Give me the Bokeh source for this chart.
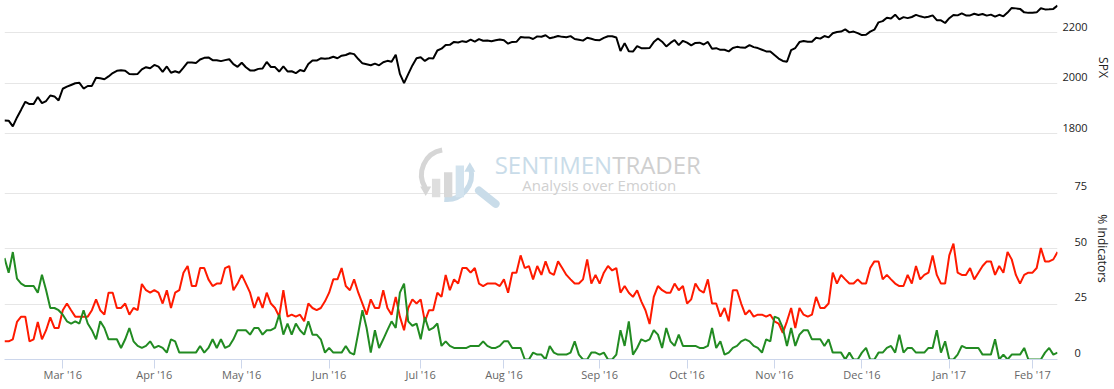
import numpy as np
import pandas as pd
from bokeh.plotting import figure
from bokeh.models import Range1d, LinearAxis, FixedTicker, Grid
from bokeh.layouts import column
from bokeh.embed import file_html
from bokeh.resources import INLINE
from bokeh.core.properties import value

# ---------------- data ----------------
start_date = "2016-02-09"
end_date = "2017-02-09"
market_holidays = ["2016-02-15", "2016-03-25", "2016-05-30", "2016-07-04", "2016-09-05",
                   "2016-11-24", "2016-12-26", "2017-01-02", "2017-01-16"]

spx = [
    1852.2, 1851.9, 1829.1, 1864.8, 1895.6, 1926.8, 1917.8, 1917.8, 1945.5, 1921.3,
    1929.8, 1951.7, 1948.1, 1932.2,
    1978.4, 1986.5, 1993.4, 2000.0, 2001.8, 1979.3, 1989.3, 1989.6, 2022.2, 2019.6,
    2015.9, 2027.2, 2040.6, 2049.6, 2051.6, 2049.8, 2036.7, 2035.9, 2037.1, 2055.0,
    2063.9, 2059.7,
    2072.8, 2066.1, 2045.2, 2066.7, 2041.9, 2047.6, 2042.0, 2061.7, 2082.4, 2082.8,
    2080.7, 2094.3, 2100.8, 2102.4, 2091.5, 2091.6, 2087.8, 2091.7, 2095.2, 2075.8,
    2065.3,
    2081.4, 2063.4, 2051.1, 2050.6, 2057.1, 2058.7, 2084.4, 2064.5, 2064.1, 2046.6,
    2066.7, 2047.2, 2047.6, 2040.0, 2052.3, 2048.0, 2076.1, 2090.5, 2090.1, 2099.1,
    2096.9,
    2099.3, 2105.3, 2099.1, 2109.4, 2112.1, 2119.1, 2115.5, 2096.1, 2079.1, 2075.3,
    2071.5, 2078.0, 2071.2, 2083.3, 2088.9, 2085.5, 2113.3, 2037.4, 2000.5, 2036.1,
    2070.8, 2098.9,
    2103.0, 2088.6, 2099.7, 2097.9, 2129.9, 2137.2, 2152.1, 2152.4, 2163.8, 2161.7,
    2166.9, 2163.8, 2173.0, 2165.2, 2175.0, 2168.5, 2169.2, 2166.6, 2170.1, 2173.6,
    2170.8, 2157.0, 2163.8, 2164.3, 2182.9, 2180.9, 2181.7, 2175.5, 2185.8, 2184.1,
    2190.2, 2178.2, 2182.2, 2187.0, 2183.9, 2182.6, 2186.9, 2175.4, 2172.5, 2169.0,
    2180.4, 2176.1, 2171.0,
    2170.9, 2180.0, 2186.5, 2186.2, 2181.3, 2127.8, 2159.0, 2127.0, 2125.8, 2147.3,
    2139.2, 2139.1, 2139.8, 2163.1, 2177.2, 2164.7, 2146.1, 2159.9, 2171.4, 2151.1,
    2168.3,
    2161.2, 2150.5, 2159.7, 2160.8, 2153.7, 2163.7, 2136.7, 2139.2, 2132.6, 2133.0,
    2126.5, 2139.6, 2144.3, 2141.3, 2141.2, 2151.3, 2143.2, 2139.4, 2133.0, 2126.4,
    2126.2,
    2111.7, 2097.9, 2088.7, 2085.2, 2131.5, 2139.6, 2163.3, 2167.5, 2164.4, 2164.2,
    2180.4, 2176.9, 2187.1, 2181.9, 2198.2, 2202.9, 2204.7, 2213.4, 2201.7, 2204.7,
    2198.8,
    2191.1, 2192.0, 2204.7, 2212.2, 2241.4, 2246.2, 2259.5, 2257.0, 2271.7, 2253.3,
    2262.0, 2258.1, 2262.5, 2270.8, 2265.2, 2261.0, 2263.8, 2268.9, 2249.9, 2249.3,
    2238.8,
    2257.8, 2270.8, 2269.0, 2277.0, 2268.9, 2268.9, 2275.3, 2270.4, 2274.6, 2267.9,
    2271.9, 2263.7, 2271.3, 2265.2, 2280.1, 2298.4, 2296.7, 2294.7, 2280.9, 2278.9,
    2279.6, 2280.9, 2297.4, 2292.6, 2293.1, 2294.7, 2307.9,
]

pct_red = [
    8.2, 8.2, 9.1, 16.9, 19.3, 19.3, 8.2, 9.1, 16.9, 9.1,
    13.2, 19.0, 14.2, 14.2, 22.2, 25.2, 22.2, 19.3, 19.3, 19.3,
    19.3, 22.2, 27.1, 22.2, 20.2, 30.1, 30.1, 23.2, 23.2, 25.2,
    20.2, 23.2, 22.2, 34.0, 31.2, 30.1, 31.2, 30.1, 25.2, 31.2,
    23.2, 30.1, 31.2, 39.1, 42.1, 33.1, 33.1, 41.2, 41.2, 36.1,
    33.1, 34.2, 34.2, 41.2, 42.1, 31.2, 34.2, 38.1, 34.2, 30.1,
    23.2, 28.2, 23.2, 30.1, 25.2, 23.2, 19.3, 31.2, 19.3, 20.2,
    19.3, 20.2, 17.2, 25.2, 23.2, 22.2, 23.2, 26.2, 30.1, 36.1,
    36.1, 41.2, 33.1, 31.2, 36.1, 30.1, 25.2, 20.2, 27.1, 23.2,
    23.2, 31.2, 23.2, 20.2, 28.2, 19.3, 13.2, 23.2, 27.1, 25.2,
    27.1, 17.2, 22.2, 22.2, 30.1, 28.2, 38.1, 31.2, 36.1, 34.2,
    41.2, 41.2, 39.1, 41.2, 34.2, 33.1, 34.2, 34.2, 34.2, 33.1,
    36.1, 30.1, 39.1, 39.1, 46.9, 41.2, 42.1, 36.1, 42.1, 38.1,
    44.2, 39.1, 38.1, 44.2, 41.2, 38.1, 36.1, 34.2, 34.2, 36.1,
    45.1, 34.2, 38.1, 34.2, 39.1, 42.1, 40.1, 41.2, 30.1, 33.1,
    30.1, 28.2, 31.2, 26.2, 22.2, 16.0, 28.2, 33.1, 31.2, 30.1,
    30.1, 34.2, 31.2, 33.1, 25.2, 27.1, 34.2, 31.2, 30.1, 36.1,
    25.2, 25.2, 19.3, 23.2, 17.2, 31.2, 31.2, 25.2, 20.2, 22.2,
    19.3, 20.2, 20.2, 19.3, 20.2, 17.2, 16.2, 12.0, 17.2, 23.2,
    14.2, 23.2, 20.2, 19.3, 20.2, 28.2, 23.2, 23.2, 25.2, 39.1,
    34.2, 38.1, 36.1, 34.2, 34.2, 36.1, 34.2, 34.2, 41.2, 44.2,
    44.2, 36.1, 38.1, 36.1, 34.2, 33.1, 33.1, 38.1, 34.2, 42.1,
    36.1, 38.1, 39.1, 46.9, 38.1, 34.2, 34.2, 46.9, 52.2, 39.1,
    38.1, 38.1, 41.2, 36.1, 39.1, 42.1, 44.2, 44.2, 38.1, 42.1,
    39.1, 48.4, 45.1, 38.1, 34.2, 38.1, 39.1, 39.1, 41.2, 50.2,
    44.2, 44.2, 45.1, 48.4,
]

pct_green = [
    45.7, 39.1, 48.4, 36.4, 34.2, 33.1, 33.1, 33.1, 30.1, 38.2,
    31.2, 23.2, 23.2, 22.2, 20.2, 17.2, 16.2, 17.2, 16.2, 22.2,
    16.2, 13.2, 9.1, 17.2, 14.2, 9.1, 9.1, 9.1, 5.2, 9.1,
    14.2, 8.2, 6.1, 5.2, 6.1, 8.2, 5.2, 6.1, 5.2, 3.1,
    9.1, 8.2, 3.1, 3.1, 3.1, 3.1, 3.1, 6.1, 3.1, 5.2,
    9.1, 5.2, 9.1, 5.2, 6.1, 9.1, 13.2, 13.2, 13.2, 11.2,
    14.2, 14.2, 11.2, 13.2, 13.2, 14.2, 20.2, 11.2, 16.2, 11.2,
    16.2, 13.2, 11.2, 17.2, 11.2, 11.2, 9.1, 3.1, 5.2, 3.1,
    3.1, 3.1, 6.1, 3.1, 2.2, 12.0, 22.2, 14.2, 3.1, 13.2,
    5.2, 9.1, 13.2, 17.2, 14.2, 30.1, 34.2, 17.2, 15.2, 16.2,
    9.1, 19.0, 13.2, 14.2, 16.2, 6.1, 8.2, 6.1, 5.2, 5.2,
    5.2, 5.2, 6.1, 6.1, 6.1, 8.2, 6.1, 5.2, 5.2, 6.1,
    8.2, 8.2, 5.2, 5.2, 5.2, 0.0, 0.0, 3.1, 2.2, 2.2,
    0.0, 6.1, 3.1, 2.2, 2.2, 2.2, 3.1, 8.2, 2.2, 0.0,
    0.0, 3.1, 3.1, 2.2, 3.1, 0.0, 0.0, 2.2, 13.2, 6.1,
    17.2, 2.2, 5.2, 9.1, 8.2, 9.1, 13.2, 11.2, 5.2, 14.2,
    8.2, 6.1, 11.2, 6.1, 6.1, 6.1, 6.1, 5.2, 5.2, 6.1,
    14.2, 5.2, 8.2, 2.2, 3.1, 5.2, 6.1, 8.2, 9.1, 8.2,
    6.1, 5.2, 3.1, 9.1, 8.2, 19.3, 18.5, 14.2, 6.1, 14.2,
    6.1, 11.2, 13.2, 13.2, 9.1, 9.1, 9.1, 6.1, 9.1, 3.1,
    3.1, 3.1, 0.0, 3.1, 0.0, 0.0, 3.1, 5.2, 0.0, 0.0,
    3.1, 3.1, 5.2, 6.1, 3.1, 11.2, 3.1, 5.2, 5.2, 3.1,
    3.1, 3.1, 5.2, 5.2, 13.2, 3.1, 8.2, 0.0, 0.0, 2.2,
    6.1, 5.2, 5.2, 5.2, 5.2, 2.2, 2.2, 2.2, 9.1, 0.0,
    2.2, 0.0, 2.2, 2.2, 2.2, 5.2, 0.0, 0.0, 0.0, 0.0,
    3.1, 5.2, 2.2, 3.1,
]

spx_ticks = [1800, 2000, 2200]
pct_label_ticks = [0, 25, 50, 75]
pct_grid_ticks = [0, 25, 50, 75, 100]

# ---------------- calendar / ordinal axis ----------------
dates = pd.bdate_range(start_date, end_date, freq="C", holidays=market_holidays)
n = len(dates)
idx = np.arange(n)
month_ticks = [i for i in range(1, n) if dates[i].month != dates[i - 1].month]
month_labels = {i: dates[i].strftime("%b '%y") for i in month_ticks}

FONT = "Open Sans"
GRID = "#e6e6e6"
LABEL_DARK = "#222222"

x_range = Range1d(0, n - 1)

# ---------------- top pane: SPX ----------------
p1 = figure(frame_width=1053, frame_height=134, x_range=x_range,
            y_range=Range1d(1797.2, 2327.9), output_backend="svg",
            toolbar_location=None, x_axis_location=None, y_axis_location=None,
            min_border_left=0, min_border_right=0, min_border_top=0, min_border_bottom=0,
            outline_line_color=None, background_fill_color="white")
p1.xgrid.visible = False
p1.ygrid.visible = False
p1.add_layout(Grid(dimension=1, ticker=FixedTicker(ticks=spx_ticks),
                   grid_line_color=GRID, grid_line_width=1))
p1.extra_y_ranges = {"lab": Range1d(1797.2 - 23.8, 2327.9 - 23.8)}
ax1 = LinearAxis(y_range_name="lab", ticker=FixedTicker(ticks=spx_ticks),
                 axis_label="SPX", axis_line_color=None,
                 major_tick_line_color=None, minor_tick_line_color=None,
                 major_tick_in=0, major_tick_out=0,
                 major_label_standoff=5, axis_label_standoff=4,
                 major_label_text_font=FONT, major_label_text_font_size="11px",
                 major_label_text_color=LABEL_DARK,
                 axis_label_text_font=FONT, axis_label_text_font_size="12px",
                 axis_label_text_font_style="normal", axis_label_text_color=LABEL_DARK)
p1.add_layout(ax1, "right")
p1.line(idx[:len(spx)], spx, line_color="black", line_width=2)

# ---------------- bottom pane: % indicators ----------------
p2 = figure(frame_width=1053, frame_height=222, x_range=x_range,
            y_range=Range1d(0, 100), output_backend="svg",
            toolbar_location=None, x_axis_location=None, y_axis_location=None,
            min_border_left=0, min_border_right=0, min_border_top=3, min_border_bottom=0,
            outline_line_color=None, background_fill_color="white")
p2.xgrid.visible = False
p2.ygrid.visible = False
p2.add_layout(Grid(dimension=1, ticker=FixedTicker(ticks=pct_grid_ticks),
                   grid_line_color=GRID, grid_line_width=1))
p2.extra_y_ranges = {"lab": Range1d(-3.0, 97.0)}
ax2 = LinearAxis(y_range_name="lab", ticker=FixedTicker(ticks=pct_label_ticks),
                 axis_label="% Indicators", axis_line_color=None,
                 major_tick_line_color=None, minor_tick_line_color=None,
                 major_tick_in=0, major_tick_out=0,
                 major_label_standoff=17, axis_label_standoff=4,
                 major_label_text_font=FONT, major_label_text_font_size="11px",
                 major_label_text_color=LABEL_DARK,
                 axis_label_text_font=FONT, axis_label_text_font_size="12px",
                 axis_label_text_font_style="normal", axis_label_text_color=LABEL_DARK)
p2.add_layout(ax2, "right")

xa = LinearAxis(ticker=FixedTicker(ticks=month_ticks), major_label_overrides=month_labels,
                axis_line_color="#ccd6eb", major_tick_line_color="#ccd6eb",
                minor_tick_line_color=None, major_tick_in=0, major_tick_out=9,
                major_label_standoff=-2,
                major_label_text_font=FONT, major_label_text_font_size="11px",
                major_label_text_color="#666666")
p2.add_layout(xa, "below")

# watermark (logo + wordmark)
WM_BLUE = "#c9dce9"
WM_GRAY = "#d6d6d6"
p2.arc(x=[106.2], y=[83.3], radius=25, radius_units="screen",
       start_angle=100, end_angle=212, start_angle_units="deg", end_angle_units="deg",
       line_color=WM_GRAY, line_width=5)
p2.arc(x=[106.2], y=[83.3], radius=25, radius_units="screen",
       start_angle=-95, end_angle=15, start_angle_units="deg", end_angle_units="deg",
       line_color=WM_BLUE, line_width=5)
p2.scatter(x=[101.2], y=[76.5], marker="inverted_triangle", size=11,
           fill_color=WM_GRAY, line_color=None)
p2.scatter(x=[111.8], y=[86.0], marker="triangle", size=11,
           fill_color=WM_BLUE, line_color=None)
p2.vbar(x=[103.7, 106.6, 109.4], width=2.0, top=[81.4, 84.4, 87.4], bottom=73.1,
        fill_color=["#dedede", "#d8d8d8", "#d3e3ee"], line_color=None)
p2.segment(x0=[114.0], y0=[76.1], x1=[118.0], y1=[70.1], line_color=WM_BLUE,
           line_width=8, line_cap="round")
p2.text(x=[146.0], y=[88.0], text=["SENTIMEN"], text_align="right",
        text_baseline="alphabetic", text_font=value(FONT), text_font_size="24px",
        text_color=WM_BLUE)
p2.text(x=[146.0], y=[88.0], text=["TRADER"], text_align="left",
        text_baseline="alphabetic", text_font=value(FONT), text_font_size="24px",
        text_color="#cfcfcf")
p2.text(x=[142.9], y=[78.6], text=["Analysis over Emotion"], text_align="center",
        text_baseline="alphabetic", text_font=value(FONT), text_font_size="15px",
        text_color="#d0d0d0")

p2.line(idx[:len(pct_red)], pct_red, line_color="#ff1a00", line_width=2)
p2.line(idx[:len(pct_green)], pct_green, line_color="#228b22", line_width=2)

layout = column(p1, p2, margin=(0, 0, 0, 4))

open("out.html", "w").write(file_html(layout, INLINE))
